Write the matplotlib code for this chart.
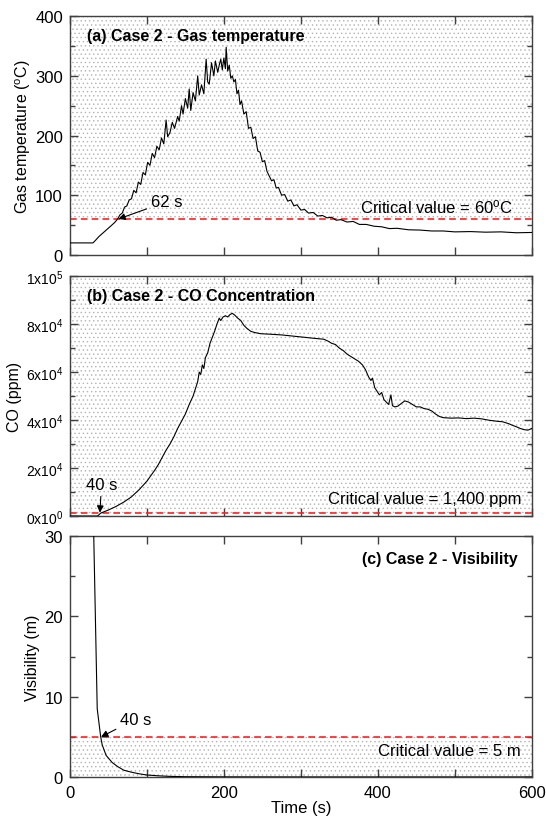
import numpy as np
import matplotlib
matplotlib.use("Agg")
import matplotlib.pyplot as plt
from matplotlib.ticker import MultipleLocator

plt.rcParams['font.family'] = ['Liberation Sans', 'DejaVu Sans']
plt.rcParams['mathtext.fontset'] = 'custom'
plt.rcParams['mathtext.rm'] = 'Liberation Sans'
plt.rcParams['mathtext.it'] = 'Liberation Sans:italic'
plt.rcParams['mathtext.bf'] = 'Liberation Sans:bold'
plt.rcParams['hatch.linewidth'] = 0.5

# (a) gas temperature (degC)
time_a = [0, 30, 33, 38, 45, 52, 58, 62, 65, 68,
          71, 74, 77, 80, 83, 86, 89, 92, 95, 98,
          101, 104, 107, 110, 113, 116, 119, 122, 125, 127,
          130, 133, 136, 140, 142, 145, 147, 150, 153, 155,
          157, 160, 163, 166, 168, 171, 174, 177, 179, 181,
          184, 187, 189, 192, 194, 196, 198, 200, 202, 203,
          205, 207, 209, 211, 213, 215, 217, 219, 221, 223,
          226, 229, 232, 235, 238, 241, 244, 247, 250, 253,
          256, 259, 262, 265, 268, 271, 275, 279, 283, 287,
          291, 295, 300, 305, 310, 316, 322, 328, 334, 340,
          346, 352, 360, 368, 376, 385, 395, 405, 415, 425,
          440, 455, 470, 485, 500, 520, 540, 560, 580, 600]
temp_a = [20, 20, 24, 31, 39, 47, 54, 60, 67, 70,
          80, 82, 92, 94, 108, 104, 122, 118, 138, 134,
          155, 150, 170, 163, 182, 176, 196, 186, 226, 198,
          205, 222, 212, 232, 224, 250, 236, 262, 246, 278,
          242, 272, 258, 300, 268, 285, 270, 328, 290, 286,
          322, 300, 325, 306, 318, 328, 310, 330, 312, 348,
          308, 318, 296, 300, 290, 294, 270, 276, 252, 258,
          236, 240, 212, 214, 195, 198, 174, 172, 156, 158,
          140, 132, 124, 126, 112, 113, 100, 101, 90, 92,
          82, 84, 75, 76, 70, 71, 65, 66, 62, 63,
          58, 59, 55, 56, 51, 51, 48, 47, 44, 44.5,
          42, 41.5, 40, 40, 38.5, 39, 38, 38.5, 37, 37.5]

# (b) CO concentration (ppm)
time_b = [0, 36, 40, 50, 60, 70, 80, 90, 100, 110,
          115, 120, 125, 130, 135, 140, 145, 150, 155, 160,
          163, 166, 168, 170, 172, 174, 176, 179, 182, 185,
          188, 191, 194, 196, 199, 202, 205, 208, 211, 214,
          218, 222, 226, 230, 235, 240, 248, 260, 275, 290,
          305, 320, 330, 336, 340, 345, 350, 355, 360, 365,
          370, 375, 380, 384, 388, 391, 393, 396, 399, 402,
          405, 408, 411, 414, 417, 419, 422, 426, 430, 435,
          440, 445, 450, 455, 460, 465, 470, 475, 480, 485,
          495, 505, 515, 525, 535, 545, 555, 562, 570, 575,
          580, 585, 590, 595, 600]
co_b = [0, 0, 1200, 2500, 4000, 5800, 8000, 11000, 14500, 19000,
        21500, 24500, 27500, 30000, 33000, 36500, 39500, 42500, 46500, 50000,
        53000, 56000, 60000, 59000, 63000, 61500, 66000, 68000, 72000, 74500,
        77000, 80000, 82500, 81500, 83000, 83500, 83000, 84000, 84500, 83800,
        82500, 81500, 79500, 78200, 77000, 76500, 76000, 75800, 75500, 75000,
        74500, 74000, 73700, 72800, 72000, 71500, 70000, 69000, 67500, 66500,
        65500, 64500, 63000, 61000, 58000, 56500, 57500, 53500, 52000, 50500,
        51500, 48500, 47500, 46500, 50500, 46000, 45500, 45800, 46800, 48000,
        47500, 46500, 45500, 45500, 44800, 44500, 43800, 42500, 41500, 41000,
        40800, 40900, 40600, 40800, 40500, 39900, 39500, 39300, 38500, 37800,
        37200, 36500, 36000, 35800, 36500]

# (c) visibility (m)
time_c = [31, 35.5, 40, 42, 47, 55, 62, 70, 80, 90, 100, 115, 130, 150, 200, 300, 400, 600]
vis_c = [30, 8.5, 5.0, 4.0, 2.7, 1.8, 1.3, 0.85, 0.6, 0.4, 0.25, 0.15, 0.08, 0.04, 0.02, 0.01, 0.01, 0.01]

crit_a = 60
crit_b = 1400
crit_c = 5

fig = plt.figure(figsize=(5.46, 8.2), dpi=100)
ax_a = fig.add_axes([0.128, 0.688, 0.846, 0.291])
ax_b = fig.add_axes([0.128, 0.3695, 0.846, 0.2925])
ax_c = fig.add_axes([0.128, 0.0512, 0.846, 0.2938])

dot_kw = dict(facecolor='none', edgecolor='#b4b4b4', hatch='....', linewidth=0, zorder=0)
line_kw = dict(color='black', lw=0.8, zorder=3)
crit_kw = dict(color='#ff2020', lw=1.2, ls=(0, (4, 2.5)), zorder=2)
arrow_kw = dict(arrowstyle='-|>', color='black', lw=0.8, mutation_scale=10, shrinkA=1, shrinkB=0)


def style_axes(ax, ymaj, ymin, ylim, ylabelsize=12):
    ax.set_xlim(0, 600)
    ax.set_ylim(*ylim)
    ax.xaxis.set_major_locator(MultipleLocator(200))
    ax.xaxis.set_minor_locator(MultipleLocator(100))
    ax.yaxis.set_major_locator(MultipleLocator(ymaj))
    ax.yaxis.set_minor_locator(MultipleLocator(ymin))
    ax.tick_params(which='both', direction='in', top=True, right=True, color='#404040', width=1)
    ax.tick_params(axis='x', which='both', length=6, pad=6, labelsize=12)
    ax.tick_params(axis='y', which='major', length=6, pad=5, labelsize=ylabelsize)
    ax.tick_params(axis='y', which='minor', length=3.5)
    for s in ax.spines.values():
        s.set_color('#404040')
        s.set_linewidth(1)


# (a)
style_axes(ax_a, 100, 50, (0, 400))
ax_a.axhspan(crit_a, 400, **dot_kw)
ax_a.axhline(crit_a, **crit_kw)
ax_a.plot(time_a, temp_a, **line_kw)
ax_a.set_xticklabels([])
ax_a.set_ylabel(r'Gas temperature ($^{\rm o}$C)', fontsize=11.5)
ax_a.yaxis.set_label_coords(-0.08, 0.5)
ax_a.text(0.036, 0.92, '(a) Case 2 - Gas temperature', transform=ax_a.transAxes,
          fontsize=11.5, fontweight='bold', va='center', ha='left')
ax_a.text(0.96, 0.205, r'Critical value = 60$^{\rm o}$C', transform=ax_a.transAxes,
          fontsize=12, va='center', ha='right')
ax_a.annotate('62 s', xy=(63, crit_a), xytext=(105, 89), fontsize=12,
              va='center', ha='left', arrowprops=arrow_kw)

# (b)
style_axes(ax_b, 20000, 10000, (0, 100000), ylabelsize=10)
ax_b.axhspan(crit_b, 100000, **dot_kw)
ax_b.axhline(crit_b, **crit_kw)
ax_b.plot(time_b, co_b, **line_kw)
ax_b.set_xticklabels([])
co_ticks = [0, 20000, 40000, 60000, 80000, 100000]
co_labels = ['0x10$^0$', '2x10$^4$', '4x10$^4$', '6x10$^4$', '8x10$^4$', '1x10$^5$']
ax_b.set_yticks(co_ticks)
ax_b.set_yticklabels(co_labels)
ax_b.set_ylabel('CO (ppm)', fontsize=11.5)
ax_b.yaxis.set_label_coords(-0.104, 0.5)
ax_b.text(0.036, 0.918, '(b) Case 2 - CO Concentration', transform=ax_b.transAxes,
          fontsize=11.5, fontweight='bold', va='center', ha='left')
ax_b.text(0.978, 0.075, 'Critical value = 1,400 ppm', transform=ax_b.transAxes,
          fontsize=12, va='center', ha='right')
ax_b.annotate('40 s', xy=(39, crit_b), xytext=(41, 13000), fontsize=12,
              va='center', ha='center', arrowprops=arrow_kw)

# (c)
style_axes(ax_c, 10, 5, (0, 30))
ax_c.axhspan(0, crit_c, **dot_kw)
ax_c.axhline(crit_c, **crit_kw)
ax_c.plot(time_c, vis_c, **line_kw)
ax_c.set_ylabel('Visibility (m)', fontsize=11.5)
ax_c.yaxis.set_label_coords(-0.065, 0.5)
ax_c.set_xlabel('Time (s)', fontsize=12)
ax_c.xaxis.set_label_coords(0.5, -0.097)
ax_c.text(0.97, 0.907, '(c) Case 2 - Visibility', transform=ax_c.transAxes,
          fontsize=11.5, fontweight='bold', va='center', ha='right')
ax_c.text(0.977, 0.112, 'Critical value = 5 m', transform=ax_c.transAxes,
          fontsize=12, va='center', ha='right')
ax_c.annotate('40 s', xy=(40.5, crit_c), xytext=(65, 7.2), fontsize=12,
              va='center', ha='left', arrowprops=arrow_kw)

fig.savefig('out.png', dpi=100)
